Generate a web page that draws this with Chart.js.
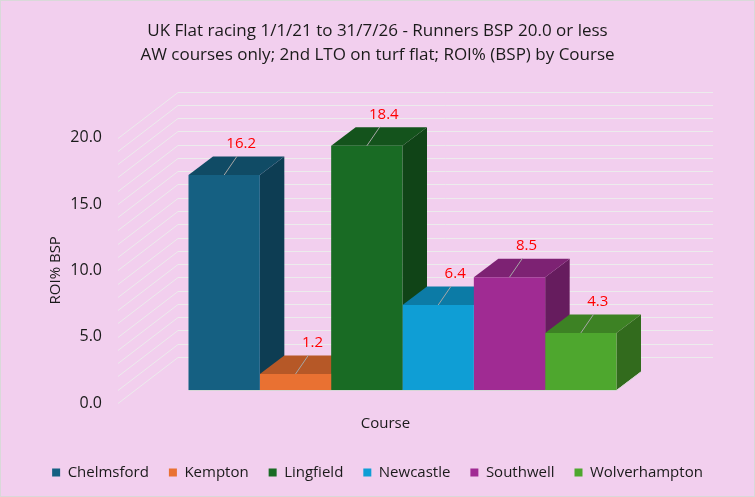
<!DOCTYPE html>
<html>
<head>
<meta charset="utf-8">
<script src="https://cdn.jsdelivr.net/npm/chart.js@4.4.1/dist/chart.umd.min.js"></script>
<style>
html,body{margin:0;padding:0;background:#f2cfee}
#wrap{width:755px;height:497px}
</style>
</head>
<body>
<div id="wrap"><canvas id="grafico" width="755" height="497"></canvas></div>
<script>
let categorias=['Course']
let cursos=['Chelmsford','Kempton','Lingfield','Newcastle','Southwell','Wolverhampton']
let roi=[16.2,1.2,18.4,6.4,8.5,4.3]
let cores=['#156082','#e97132','#196b24','#0f9ed5','#a02b93','#4ea72e']
let yTicks=[0,5,10,15,20]

let fonte='"Open Sans", sans-serif'

// 3d: bar plane -> front (-17,+13), back wall (+43,-33), bar depth (24.5,-18.5)
let FRENTE={x:-17,y:13}
let FUNDO={x:43,y:-33}
let PROF={x:24.5,y:-18.5}

function escurecer(hex,f){
let n=parseInt(hex.slice(1),16)
let r=Math.round(((n>>16)&255)*f)
let g=Math.round(((n>>8)&255)*f)
let b=Math.round((n&255)*f)
return'rgb('+r+','+g+','+b+')'
}

let plugin3d={
id:'plugin3d',
beforeDraw(chart){
let c=chart.ctx
c.save()
c.fillStyle='#f2cfee'
c.fillRect(0,0,chart.width,chart.height)
c.strokeStyle='#d9d9d9'
c.lineWidth=1
c.strokeRect(0.5,0.5,chart.width-1,chart.height-1)
c.restore()
},
beforeDatasetsDraw(chart){
let c=chart.ctx
let ys=chart.scales.y
let a=chart.chartArea
c.save()
c.strokeStyle='#ececec'
c.lineWidth=1
for(let v=0;v<=20;v++){
let py=Math.round(ys.getPixelForValue(v))+0.5
c.beginPath()
c.moveTo(a.left+FRENTE.x,py+FRENTE.y)
c.lineTo(a.left+FUNDO.x,py+FUNDO.y)
c.lineTo(a.right+FUNDO.x,py+FUNDO.y)
c.stroke()
}
// side and top faces, left to right
chart.data.datasets.forEach((ds,i)=>{
let bar=chart.getDatasetMeta(i).data[0]
let l=bar.x-bar.width/2
let r=bar.x+bar.width/2
let t=bar.y
let b=bar.base
c.fillStyle=escurecer(cores[i],0.64)
c.beginPath()
c.moveTo(r,t)
c.lineTo(r+PROF.x,t+PROF.y)
c.lineTo(r+PROF.x,b+PROF.y)
c.lineTo(r,b)
c.closePath()
c.fill()
c.fillStyle=escurecer(cores[i],0.78)
c.beginPath()
c.moveTo(l,t)
c.lineTo(l+PROF.x,t+PROF.y)
c.lineTo(r+PROF.x,t+PROF.y)
c.lineTo(r,t)
c.closePath()
c.fill()
})
c.restore()
},
afterDatasetsDraw(chart){
let c=chart.ctx
let ys=chart.scales.y
let n=chart.data.datasets.length
c.save()
// light floor edge under the bars
let b0=chart.getDatasetMeta(0).data[0]
let bN=chart.getDatasetMeta(n-1).data[0]
let yb=Math.round(b0.base)+0.5
c.strokeStyle='#d6d6d6'
c.lineWidth=1
c.beginPath()
c.moveTo(b0.x-b0.width/2,yb)
c.lineTo(bN.x+bN.width/2,yb)
c.lineTo(bN.x+bN.width/2+PROF.x,yb+PROF.y)
c.stroke()
c.font='15px '+fonte
c.textAlign='center'
c.textBaseline='middle'
chart.data.datasets.forEach((ds,i)=>{
let bar=chart.getDatasetMeta(i).data[0]
let x0=bar.x,y0=bar.y
c.strokeStyle='#a6a6a6'
c.lineWidth=1
c.beginPath()
c.moveTo(x0,y0)
c.lineTo(x0+13,y0-19)
c.stroke()
c.fillStyle='#ff0000'
c.fillText(ds.data[0].toFixed(1),x0+17,y0-31)
})
// y title
c.fillStyle='#1a1a1a'
c.font='15px '+fonte
c.translate(56,(ys.getPixelForValue(0)+ys.getPixelForValue(20))/2+FRENTE.y)
c.rotate(-Math.PI/2)
c.fillText('ROI% BSP',0,0)
c.restore()
}
}

new Chart(document.getElementById('grafico'),{
type:'bar',
data:{
labels:categorias,
datasets:cursos.map((n,i)=>({
label:n,
data:[roi[i]],
backgroundColor:cores[i],
borderWidth:0,
categoryPercentage:0.8,
barPercentage:1
}))
},
options:{
responsive:false,
animation:false,
devicePixelRatio:1,
layout:{padding:{left:0,right:0,top:0,bottom:7}},
plugins:{
title:{
display:true,
text:['UK Flat racing 1/1/21 to 31/7/26 - Runners BSP 20.0 or less','AW courses only; 2nd LTO on turf flat; ROI% (BSP) by Course'],
color:'#1a1a1a',
font:{family:fonte,size:17,weight:'normal',lineHeight:1.4},
padding:{top:19,bottom:58}
},
legend:{
position:'bottom',
labels:{
color:'#1a1a1a',
font:{family:fonte,size:15},
boxWidth:8,
boxHeight:8,
padding:20
}
},
tooltip:{enabled:false}
},
scales:{
x:{
grid:{display:false,drawTicks:false},
border:{display:false},
ticks:{color:'#1a1a1a',font:{family:fonte,size:15},padding:25,labelOffset:FRENTE.x},
afterFit(s){s.height=55}
},
y:{
min:0,
max:20,
grid:{display:false,drawTicks:false},
border:{display:false},
afterBuildTicks(s){s.ticks=yTicks.map(v=>({value:v}))},
ticks:{
color:'#1a1a1a',
font:{family:fonte,size:16},
padding:33,
labelOffset:FRENTE.y,
callback:v=>v.toFixed(1)
},
afterFit(s){s.width=135}
},
y2:{
position:'right',
min:0,
max:20,
grid:{display:false,drawTicks:false},
border:{display:false},
ticks:{display:false},
afterFit(s){s.width=85}
}
}
},
plugins:[plugin3d]
})
</script>
</body>
</html>
